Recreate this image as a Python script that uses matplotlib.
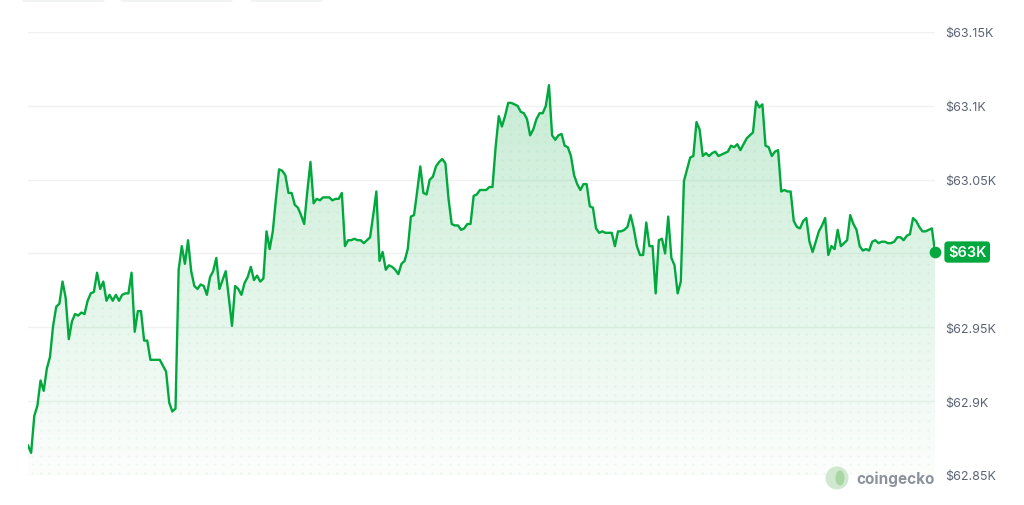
import numpy as np
import matplotlib
matplotlib.use("Agg")
import matplotlib.pyplot as plt
from matplotlib.patches import FancyBboxPatch, Circle, Ellipse
from matplotlib.path import Path

plt.rcParams['font.family'] = ['Inter', 'DejaVu Sans']

# BTC price, 5 minute steps over 24h
prices = [
    62870, 62865, 62890, 62897, 62914, 62907, 62922, 62930, 62951, 62964,
    62966, 62981, 62970, 62942, 62954, 62959, 62958, 62960, 62959, 62968,
    62973, 62974, 62987, 62976, 62981, 62968, 62972, 62968, 62972, 62968,
    62972, 62973, 62973, 62987, 62947, 62961, 62961, 62941, 62941, 62928,
    62928, 62928, 62928, 62924, 62920, 62899, 62893, 62895, 62989, 63005,
    62993, 63009, 62988, 62978, 62976, 62979, 62978, 62972, 62984, 62988,
    62997, 62976, 62982, 62988, 62970, 62951, 62978, 62976, 62972, 62980,
    62984, 62991, 62982, 62985, 62981, 62983, 63015, 63003, 63015, 63037,
    63057, 63056, 63053, 63041, 63041, 63033, 63031, 63026, 63020, 63042,
    63062, 63034, 63037, 63036, 63038, 63038, 63038, 63036, 63037, 63037,
    # middle part
    63041, 63005, 63009, 63009, 63010, 63009, 63009, 63007, 63009, 63011,
    63026, 63042, 62995, 63001, 62989, 62992, 62991, 62989, 62986, 62993,
    62995, 63003, 63025, 63026, 63042, 63059, 63041, 63040, 63050, 63052,
    63059, 63062, 63064, 63061, 63037, 63020, 63019, 63019, 63016, 63017,
    63020, 63020, 63039, 63040, 63043, 63043, 63043, 63045, 63045, 63072,
    63093, 63086, 63093, 63102, 63102, 63101, 63100, 63096, 63095, 63091,
    63080, 63084, 63091, 63095, 63095, 63100, 63114, 63080, 63077, 63080,
    63081, 63073, 63072, 63066, 63053, 63047, 63043, 63047, 63047, 63032,
    63031, 63017, 63014, 63015, 63014, 63014, 63014, 63005, 63015, 63015,
    63016, 63018, 63026, 63017, 63005, 62999, 62999, 63021, 63005, 63005,
    62973, 63009, 63010, 63000, 63025,
    # last part
    62997, 62992, 62973, 62981, 63049, 63057, 63065, 63066, 63089, 63084,
    63066, 63068, 63066, 63068, 63069, 63066, 63067, 63068, 63069, 63073,
    63072, 63074, 63070, 63074, 63078, 63080, 63082, 63103, 63099, 63101,
    63073, 63072, 63066, 63069, 63070, 63042, 63043, 63042, 63042, 63022,
    63018, 63017, 63022, 63024, 63008, 63001, 63008, 63015, 63019, 63024,
    62999, 63005, 63003, 63016, 63005, 63007, 63009, 63026, 63020, 63016,
    63005, 63002, 63003, 63002, 63008, 63009, 63007, 63008, 63008, 63007,
    63007, 63008, 63011, 63011, 63009, 63012, 63013, 63024, 63022, 63018,
    63015, 63015, 63016, 63017, 63001,
]
y_levels = [62850, 62900, 62950, 63000, 63050, 63100, 63150]
y_labels = ['$62.85K', '$62.9K', '$62.95K', '', '$63.05K', '$63.1K', '$63.15K']
last_label = '$63K'

green = '#00a83e'
hours = np.arange(len(prices)) * 5 / 60.0
prices = np.array(prices, dtype=float)

fig = plt.figure(figsize=(10.24, 5.06), dpi=100)
ax = fig.add_axes([28 / 1024, 30 / 506, 907 / 1024, 443 / 506])
ax.set_xlim(hours[0], hours[-1])
ax.set_ylim(62850, 63150)

for lv in y_levels:
    ax.axhline(lv, color='#eef3ef', lw=1.0, zorder=0)

# gradient fill under the line
clip = Path(np.vstack([np.column_stack([hours, prices]),
                       [[hours[-1], 62850], [hours[0], 62850]]]))
top = prices.max()
grad = np.zeros((256, 2, 4))
grad[:, :, 0] = 0 / 255
grad[:, :, 1] = 168 / 255
grad[:, :, 2] = 62 / 255
grad[:, :, 3] = np.linspace(0.015, 0.22, 256)[:, None]
im = ax.imshow(grad, extent=[hours[0], hours[-1], 62850, top], origin='lower',
               aspect='auto', zorder=1, interpolation='bilinear')
im.set_clip_path(clip, transform=ax.transData)

# faint dot texture inside the fill
gx, gy = np.meshgrid(np.arange(4, 907, 8.7), np.arange(2, 443, 8.7))
dots = ax.scatter(gx.ravel() / 907, gy.ravel() / 443, s=2.2, color=green,
                  alpha=0.07, lw=0, transform=ax.transAxes, zorder=1)
dots.set_clip_path(clip, transform=ax.transData)

ax.plot(hours, prices, color=green, lw=1.7, zorder=3, solid_joinstyle='round')
ax.scatter([hours[-1]], [prices[-1]], s=55, color=green, zorder=4, clip_on=False)

for s in ax.spines.values():
    s.set_visible(False)
ax.set_xticks([])
ax.yaxis.tick_right()
ax.set_yticks(y_levels)
ax.set_yticklabels(y_labels)
ax.tick_params(axis='y', length=0, pad=7.5, labelsize=9, labelcolor='#5c6474')

# current price tag
ax.text(1.0 + 13 / 907, prices[-1], last_label, transform=ax.get_yaxis_transform(),
        ha='left', va='center', color='white', fontsize=10.5, fontweight='semibold',
        bbox=dict(boxstyle='round,pad=0.25,rounding_size=0.25', fc=green, ec='none'))

# coingecko watermark
fig.patches.append(Circle((837, 27), 11.5, transform=None, fc='#cfe8cf', ec='none'))
fig.patches.append(Ellipse((840, 27), 9, 15, transform=None, fc='#a9d6a3', ec='none'))
fig.text(856 / 1024, 27 / 506, 'coingecko', ha='left', va='center', fontsize=11,
         fontweight='bold', color='#8b929c')

# cut-off toggle buttons at the top edge
for x0, x1 in [(22, 105), (120, 233), (250, 323)]:
    fig.patches.append(FancyBboxPatch((x0, 503), x1 - x0, 6, transform=None,
                                      boxstyle='round,pad=0,rounding_size=3',
                                      fc='#f1f4f3', ec='none'))

fig.savefig('out.png', dpi=100)
